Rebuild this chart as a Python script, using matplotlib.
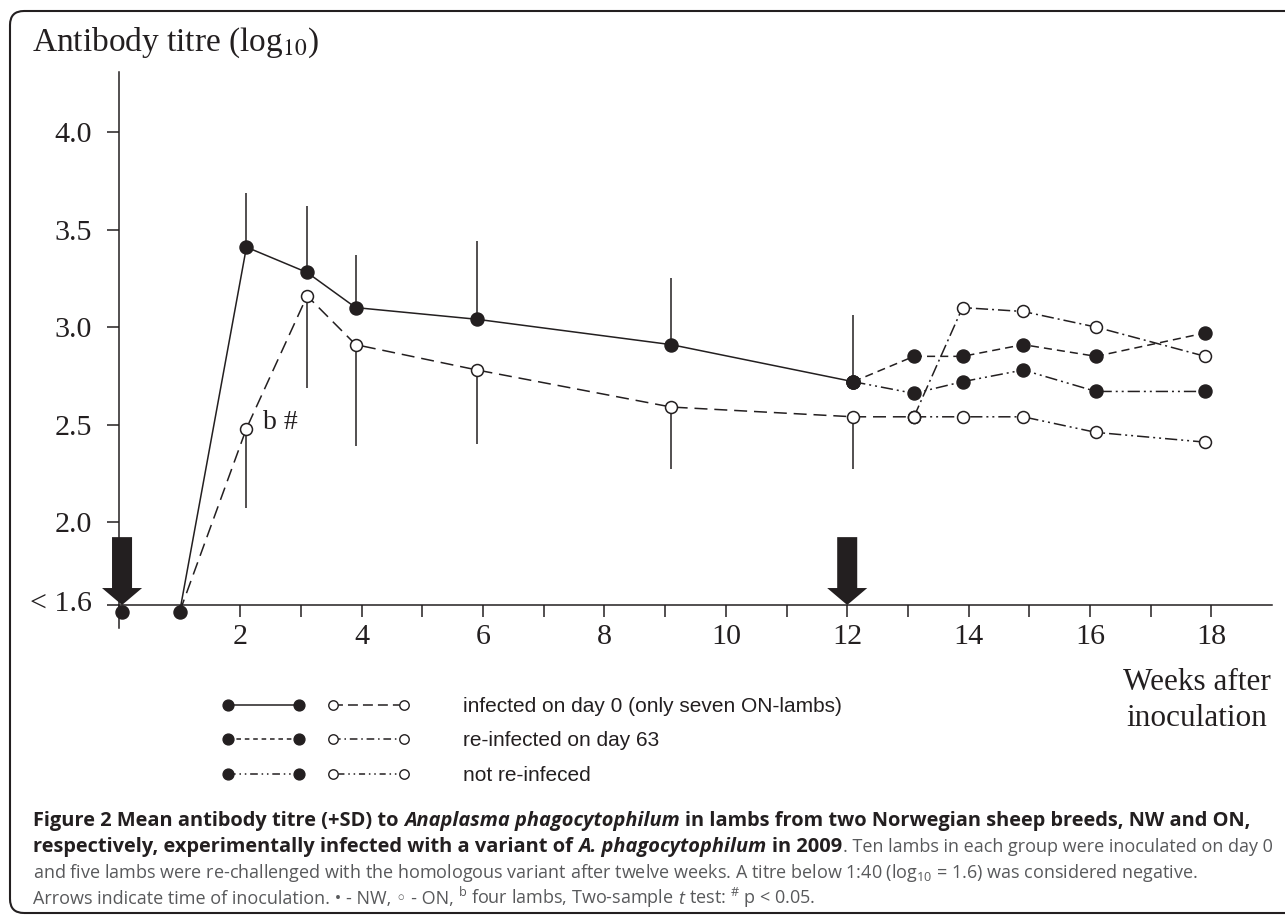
import matplotlib
matplotlib.use('Agg')
import matplotlib.pyplot as plt
from matplotlib.patches import FancyArrow, FancyBboxPatch
from matplotlib.lines import Line2D
from matplotlib.legend_handler import HandlerTuple
from matplotlib.transforms import IdentityTransform, ScaledTranslation

plt.rcParams['mathtext.fontset'] = 'custom'
plt.rcParams['mathtext.rm'] = 'Open Sans'
plt.rcParams['mathtext.it'] = 'Open Sans:italic'
plt.rcParams['mathtext.bf'] = 'Open Sans:bold'

K = '#231f20'
GRAY = '#58595b'
SERIF = 'Liberation Serif'

# values (weeks after inoculation, log10 titre)
weeks_inf_nw = [0.05, 1.0, 2.1, 3.1, 3.9, 5.9, 9.1, 12.1]
titre_inf_nw = [1.54, 1.54, 3.41, 3.28, 3.10, 3.04, 2.91, 2.72]
sd_inf_nw = [0, 0, 0.28, 0.34, 0.27, 0.40, 0.34, 0.34]

weeks_inf_on = [1.0, 2.1, 3.1, 3.9, 5.9, 9.1, 12.1, 13.1]
titre_inf_on = [1.54, 2.48, 3.16, 2.91, 2.78, 2.59, 2.54, 2.54]
sd_inf_on = [0, 0.41, 0.47, 0.52, 0.38, 0.32, 0.27, 0]

weeks_late_nw = [12.1, 13.1, 13.9, 14.9, 16.1, 17.9]
titre_re_nw = [2.72, 2.85, 2.85, 2.91, 2.85, 2.97]
titre_not_nw = [2.72, 2.66, 2.72, 2.78, 2.67, 2.67]

weeks_late_on = [13.1, 13.9, 14.9, 16.1, 17.9]
titre_re_on = [2.54, 3.10, 3.08, 3.00, 2.85]
titre_not_on = [2.54, 2.54, 2.54, 2.46, 2.41]

inoculation_weeks = [0.05, 12.0]

ytick_vals = [1.575, 2.0, 2.5, 3.0, 3.5, 4.0]
ytick_labels = ['< 1.6', '2.0', '2.5', '3.0', '3.5', '4.0']
xtick_vals = list(range(0, 19))
xtick_labels = [str(w) if w % 2 == 0 and w > 0 else '' for w in xtick_vals]

legend_labels = ['infected on day 0 (only seven ON-lambs)',
                 're-infected on day 63',
                 'not re-infeced']

W, H = 1285, 916
fig = plt.figure(figsize=(W / 100, H / 100), dpi=100)
ax = fig.add_axes([119 / W, 1 - 605 / H, (1272 - 119) / W, (605 - 72) / H])
ax.set_xlim(0, 19)
ax.set_ylim(1.575, 4.308)

lw = 1.1
filled = dict(marker='o', ms=9.4, mfc=K, mec=K, mew=1.0)
opened = dict(marker='o', ms=8.6, mfc='white', mec=K, mew=1.1)

d_on_inf = (8.5, 4.5)
d_nw_re = (5.3, 3.3)
d_on_re = (8, 2.6, 1.3, 2.6)
d_not = (8, 2.6, 1.3, 2.6, 1.3, 2.6)

# error bars (+SD up for NW, drawn downward for ON)
zeros_nw = [0] * len(sd_inf_nw)
zeros_on = [0] * len(sd_inf_on)
ax.errorbar(weeks_inf_nw, titre_inf_nw, yerr=[zeros_nw, sd_inf_nw], fmt='none',
            ecolor=K, elinewidth=lw, capsize=0, zorder=2)
ax.errorbar(weeks_inf_on, titre_inf_on, yerr=[sd_inf_on, zeros_on], fmt='none',
            ecolor=K, elinewidth=lw, capsize=0, zorder=2)

# lines
ax.plot(weeks_inf_nw[1:], titre_inf_nw[1:], color=K, lw=lw, clip_on=False, zorder=3)
ax.plot(weeks_inf_on, titre_inf_on, color=K, lw=lw, dashes=d_on_inf, clip_on=False, zorder=3)
ax.plot(weeks_late_nw, titre_re_nw, color=K, lw=lw, dashes=d_nw_re, zorder=3)
ax.plot(weeks_late_nw, titre_not_nw, color=K, lw=lw, dashes=d_not, zorder=3)
ax.plot(weeks_late_on, titre_re_on, color=K, lw=lw, dashes=d_on_re, zorder=3)
ax.plot(weeks_late_on, titre_not_on, color=K, lw=lw, dashes=d_not, zorder=3)

# markers
ax.plot(weeks_inf_on[1:], titre_inf_on[1:], ls='none', clip_on=False, zorder=4, **opened)
ax.plot(weeks_late_on, titre_re_on, ls='none', zorder=4, **opened)
ax.plot(weeks_late_on, titre_not_on, ls='none', zorder=4, **opened)
ax.plot(weeks_inf_nw, titre_inf_nw, ls='none', clip_on=False, zorder=5, **filled)
ax.plot(weeks_late_nw, titre_re_nw, ls='none', zorder=5, **filled)
ax.plot(weeks_late_nw, titre_not_nw, ls='none', zorder=5, **filled)

# inoculation arrows
for wk in inoculation_weeks:
    ax.add_patch(FancyArrow(wk, 1.923, 0, -(1.923 - 1.575), width=0.33, head_width=0.66,
                            head_length=0.087, length_includes_head=True, color=K,
                            lw=0, clip_on=False, zorder=6))

ax.text(2.37, 2.513, 'b #', fontsize=20, family=SERIF, color=K, va='center', ha='left')

for s in ['top', 'right']:
    ax.spines[s].set_visible(False)
for s in ['left', 'bottom']:
    ax.spines[s].set_linewidth(lw)
    ax.spines[s].set_color(K)
ax.spines['left'].set_bounds(1.456, 4.308)

ax.set_xticks(xtick_vals)
ax.set_xticklabels(xtick_labels)
ax.set_yticks(ytick_vals)
ax.set_yticklabels(ytick_labels)
ax.tick_params(axis='both', length=8.6, width=lw, color=K, direction='out',
               labelsize=21.6, labelcolor=K)
ax.tick_params(axis='x', pad=5)
ax.tick_params(axis='y', pad=10.8)
for lbl in ax.get_xticklabels() + ax.get_yticklabels():
    lbl.set_family(SERIF)
low = ax.get_yticklabels()[0]
low.set_transform(low.get_transform() + ScaledTranslation(0, 4 / 100, fig.dpi_scale_trans))

fig.text(32 / W, 1 - 51 / H, 'Antibody titre (log$_{10}$)', fontsize=24, family=SERIF,
         math_fontfamily='stix', color=K, va='baseline', ha='left')
fig.text(1197 / W, 1 - 682 / H, 'Weeks after', fontsize=22.5, family=SERIF, color=K,
         ha='center', va='center')
fig.text(1197 / W, 1 - 719 / H, 'inoculation', fontsize=22.5, family=SERIF, color=K,
         ha='center', va='center')

# legend: NW (filled) and ON (open) samples side by side
h_nw = [Line2D([], [], color=K, lw=lw, marker='o', ms=7.8, mfc=K, mec=K),
        Line2D([], [], color=K, lw=lw, dashes=(3, 2.5), marker='o', ms=7.8, mfc=K, mec=K),
        Line2D([], [], color=K, lw=lw, dashes=(5, 2.5, 1, 2.5, 1, 2.5), marker='o', ms=7.8, mfc=K, mec=K)]
h_on = [Line2D([], [], color=K, lw=lw, dashes=(6.5, 3.3), marker='o', ms=6.8, mfc='white', mec=K, mew=1.0),
        Line2D([], [], color=K, lw=lw, dashes=(5, 2.5, 1, 2.5), marker='o', ms=6.8, mfc='white', mec=K, mew=1.0),
        Line2D([], [], color=K, lw=lw, dashes=(1, 2.5, 4, 2.5, 1, 2.5), marker='o', ms=6.8, mfc='white', mec=K, mew=1.0)]
fig.legend([(a, b) for a, b in zip(h_nw, h_on)], legend_labels,
           handler_map={tuple: HandlerTuple(ndivide=None, pad=1.06)},
           loc='upper left', bbox_to_anchor=(222 / W, 1 - 697 / H), frameon=False,
           borderpad=0, borderaxespad=0, numpoints=2, handlelength=9.04,
           handletextpad=2.55, labelspacing=0.74,
           prop={'family': 'Liberation Sans', 'size': 15}, labelcolor=K)

# caption, written piece by piece
CAP_B = 14.4
CAP_R = 13.0
sans = ['Open Sans', 'DejaVu Sans']
styles = {
    'B': dict(family=sans, weight='bold', color=K, fontsize=CAP_B),
    'BI': dict(family=sans, weight='bold', style='italic', color=K, fontsize=CAP_B),
    'R': dict(family=sans, color=GRAY, fontsize=CAP_R),
    'I': dict(family=sans, style='italic', color=GRAY, fontsize=CAP_R),
}
renderer = fig.canvas.get_renderer()


def text_w(s, st):
    t = fig.text(0, 0, s, transform=IdentityTransform(), **styles[st])
    w = t.get_window_extent(renderer).width
    t.remove()
    return w


space_w = {st: text_w('x x', st) - text_w('xx', st) for st in styles}


def caption_row(y, pieces):
    x = 33
    for s, st, gap in pieces:
        t = fig.text(x, H - y, s, transform=IdentityTransform(),
                     va='baseline', ha='left', **styles[st])
        x += t.get_window_extent(renderer).width + (space_w[st] if gap else 1)


caption_row(826, [('Figure 2 Mean antibody titre (+SD) to', 'B', True),
                  ('Anaplasma phagocytophilum', 'BI', True),
                  ('in lambs from two Norwegian sheep breeds, NW and ON,', 'B', False)])
caption_row(852, [('respectively, experimentally infected with a variant of', 'B', True),
                  ('A. phagocytophilum', 'BI', True),
                  ('in 2009', 'B', False),
                  ('. Ten lambs in each group were inoculated on day 0', 'R', False)])
caption_row(878, [('and five lambs were re-challenged with the homologous variant after twelve '
                   'weeks. A titre below 1:40 (log$_{10}$ = 1.6) was considered negative.', 'R', False)])
caption_row(904, [('Arrows indicate time of inoculation. \u2022 - NW, \u25e6 - ON,', 'R', True),
                  ('$^{\\mathrm{b}}$ four lambs, Two-sample', 'R', True),
                  ('t', 'I', True),
                  ('test: $^{\\#}$ p < 0.05.', 'R', False)])

fig.patches.append(FancyBboxPatch((10, 3), 1300, 902, boxstyle='round,pad=0,rounding_size=14',
                                  transform=IdentityTransform(), fill=False, ec=K, lw=1.5))

fig.savefig('out.png', dpi=100)
